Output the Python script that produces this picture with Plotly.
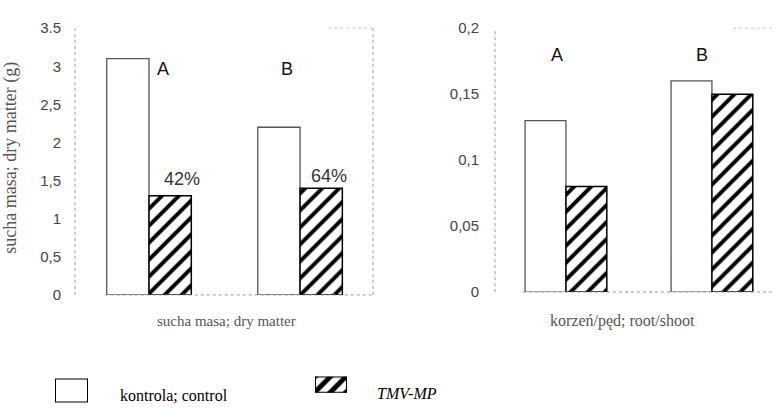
import plotly.graph_objects as go

# ---- data ----
groups = ["A", "B"]
dry_control = [3.1, 2.2]
dry_tmv = [1.3, 1.4]
dry_pct = ["42%", "64%"]
rs_control = [0.13, 0.16]
rs_tmv = [0.08, 0.15]

left_tickvals = [0, 0.5, 1, 1.5, 2, 2.5, 3, 3.5]
left_ticktext = ["0", "0,5", "1", "1,5", "2", "2,5", "3", "3.5"]
right_tickvals = [0, 0.05, 0.1, 0.15, 0.2]
right_ticktext = ["0", "0,05", "0,1", "0,15", "0,2"]

series_names = ["kontrola; control", "TMV-MP"]
ytitle = "sucha masa; dry matter (g)"
xtitle_left = "sucha masa; dry matter"
xtitle_right = "korzeń/pęd; root/shoot"

W = 780
H = 420
BW = 0.28
xpos = list(range(len(groups)))

hatch = dict(shape="/", fgcolor="#000000", bgcolor="#ffffff", fgopacity=1, size=12, solidity=0.33)
ctrl_style = dict(color="white", opacity=1, line=dict(color="#555555", width=1.3))
tmv_style = dict(color="white", opacity=1, pattern=hatch, line=dict(color="black", width=1.5))

fig = go.Figure()
fig.add_trace(go.Bar(x=xpos, y=dry_control, width=BW, offset=-BW, marker=ctrl_style,
                     xaxis="x", yaxis="y", showlegend=False, name=series_names[0]))
fig.add_trace(go.Bar(x=xpos, y=dry_tmv, width=BW, offset=0, marker=tmv_style,
                     xaxis="x", yaxis="y", showlegend=False, name=series_names[1]))
fig.add_trace(go.Bar(x=xpos, y=rs_control, width=BW, offset=-BW, marker=ctrl_style,
                     xaxis="x2", yaxis="y2", showlegend=False, name=series_names[0]))
fig.add_trace(go.Bar(x=xpos, y=rs_tmv, width=BW, offset=0, marker=tmv_style,
                     xaxis="x2", yaxis="y2", showlegend=False, name=series_names[1]))
# legend swatches
fig.add_trace(go.Bar(x=[0], y=[1], width=1,
                     marker=dict(color="white", opacity=1, line=dict(color="black", width=2)),
                     xaxis="x3", yaxis="y3", showlegend=False, hoverinfo="skip"))
fig.add_trace(go.Bar(x=[0], y=[1], width=1,
                     marker=dict(color="white", opacity=1,
                                 pattern=dict(shape="/", fgcolor="#000000", bgcolor="#ffffff", fgopacity=1,
                                              size=11, solidity=0.45),
                                 line=dict(color="black", width=2)),
                     xaxis="x4", yaxis="y4", showlegend=False, hoverinfo="skip"))

tickfont = dict(family="Liberation Sans, Arial, sans-serif", size=15, color="#444444")
hidden = dict(visible=False, showgrid=False, zeroline=False, fixedrange=True)

fig.update_layout(
    width=W, height=H, margin=dict(l=0, r=0, t=0, b=0),
    paper_bgcolor="white", plot_bgcolor="white",
    barmode="overlay",
    xaxis=dict(domain=[75 / W, 373 / W], range=[-0.49, 1.483], showticklabels=False,
               showgrid=False, zeroline=False, ticks=""),
    yaxis=dict(domain=[1 - 298 / H, 1 - 20 / H], range=[0, 3.5], tickvals=left_tickvals,
               ticktext=left_ticktext, tickfont=tickfont, showgrid=False, zeroline=False,
               ticks="", ticklabelstandoff=13),
    xaxis2=dict(domain=[495 / W, 775 / W], range=[-0.486, 1.432], showticklabels=False,
                showgrid=False, zeroline=False, ticks=""),
    yaxis2=dict(domain=[1 - 295 / H, 1 - 20 / H], range=[0, 0.2], tickvals=right_tickvals,
                ticktext=right_ticktext, tickfont=tickfont, showgrid=False, zeroline=False,
                ticks="", ticklabelstandoff=15, anchor="x2"),
    xaxis3=dict(domain=[55 / W, 88 / W], range=[-0.5, 0.5], anchor="y3", **hidden),
    yaxis3=dict(domain=[1 - 410 / H, 1 - 385 / H], range=[0, 1], anchor="x3", **hidden),
    xaxis4=dict(domain=[315 / W, 347 / W], range=[-0.5, 0.5], anchor="y4", **hidden),
    yaxis4=dict(domain=[1 - 400 / H, 1 - 383 / H], range=[0, 1], anchor="x4", **hidden),
)

dot = dict(color="#9a9a9a", width=1, dash="dot")
shapes = []
for xr, yr in (("x", "y"), ("x2", "y2")):
    shapes.append(dict(type="line", xref=f"{xr} domain", yref=f"{yr} domain", x0=0, x1=0, y0=0, y1=1, line=dot))
    shapes.append(dict(type="line", xref=f"{xr} domain", yref=f"{yr} domain", x0=0.1, x1=1, y0=0, y1=0, line=dot))
    shapes.append(dict(type="line", xref=f"{xr} domain", yref=f"{yr} domain", x0=0.85, x1=1, y0=1, y1=1,
                       line=dict(color="#c8c8c8", width=1, dash="dot")))
shapes.append(dict(type="line", xref="x domain", yref="y domain", x0=1, x1=1, y0=0, y1=1, line=dot))
fig.update_layout(shapes=shapes)

labfont = dict(family="Liberation Sans, Arial, sans-serif", size=18, color="#111111")
pctfont = dict(family="Liberation Sans, Arial, sans-serif", size=18, color="#333333")
serif_grey = dict(family="Liberation Serif, Times New Roman, serif", size=15, color="#555555")
serif_black = dict(family="Liberation Serif, Times New Roman, serif", size=16, color="black")

def note(x, y, text, font, xref="paper", yref="paper", xanchor="center", **kw):
    return dict(x=x, y=y, xref=xref, yref=yref, text=text, showarrow=False, font=font,
                xanchor=xanchor, yanchor="middle", **kw)

ann = []
# group letters
ann.append(note(0.093, 2.96, groups[0], labfont, "x", "y"))
ann.append(note(0.914, 2.96, groups[1], labfont, "x", "y"))
ann.append(note(-0.06, 0.18, groups[0], labfont, "x2", "y2"))
ann.append(note(0.93, 0.18, groups[1], labfont, "x2", "y2"))
# percentages
ann.append(note(0.219, 1.52, dry_pct[0], pctfont, "x", "y"))
ann.append(note(1.19, 1.56, dry_pct[1], pctfont, "x", "y"))
# axis titles
ann.append(note(11 / W, 1 - 155 / H, ytitle,
                dict(family="Liberation Serif, Times New Roman, serif", size=18, color="#555555"),
                textangle=-90))
ann.append(note(226 / W, 1 - 325 / H, xtitle_left, serif_grey))
ann.append(note(622 / W, 1 - 325 / H, xtitle_right,
                dict(family="Liberation Serif, Times New Roman, serif", size=16, color="#555555")))
# legend labels
ann.append(note(118 / W, 1 - 403 / H, series_names[0], serif_black, xanchor="left"))
ann.append(note(375 / W, 1 - 401 / H, "<i>" + series_names[1] + "</i>", serif_black, xanchor="left"))
fig.update_layout(annotations=ann)

fig.write_html("out.html")
